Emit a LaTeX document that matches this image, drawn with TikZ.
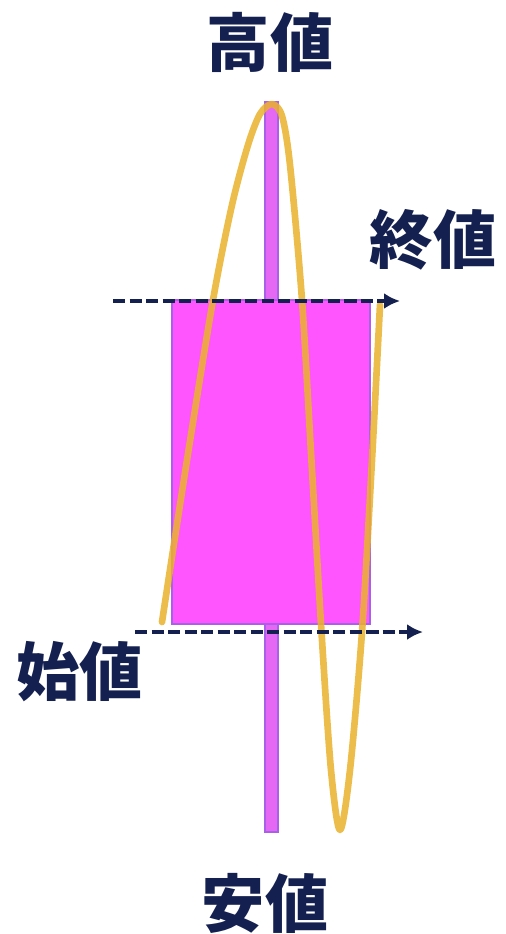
\documentclass[tikz,border=0pt]{standalone}
\usepackage{fontspec}
\newfontfamily\jpfont{Noto Sans CJK JP}
\usetikzlibrary{arrows.meta}

\definecolor{navy}{HTML}{14204F}
\definecolor{candle}{HTML}{FF55FF}
\definecolor{candleedge}{HTML}{A860E8}
\definecolor{wickfill}{HTML}{E468F4}
\definecolor{gold}{HTML}{EAB22C}

\begin{document}
\begin{tikzpicture}[
    x=0.02cm, y=-0.02cm,
    label/.style={font=\jpfont\bfseries\fontsize{36}{36}\selectfont, text=navy, inner sep=0pt},
    level/.style={navy, line width=2.2pt, dash pattern=on 7pt off 2.4pt, -{Latex[length=9pt,width=9pt]}},
    price/.style={gold, line width=3.8pt, opacity=0.85, line cap=round, line join=round},
]
    \useasboundingbox (0,0) rectangle (506,934);
    % wick and body
    \draw[candleedge, fill=wickfill, line width=0.8pt] (265,102) rectangle (278,832);
    \draw[candleedge, fill=candle, line width=0.8pt] (172,300) rectangle (370,624);
    % price path
    \draw[price] plot[smooth, tension=0.5] coordinates {
        (162,622) (187,460) (213,300) (232,205) (248,145) (260,114) (272,104)
        (282,116) (290,165) (302,300) (312,470) (322,640) (331,770) (340,830)
        (350,770) (362,632) (372,460) (380,305)};
    % open / close levels
    \coordinate (closeL) at (113,301);
    \coordinate (closeR) at (400,301);
    \coordinate (openL) at (135,632);
    \coordinate (openR) at (423,632);
    \draw[level] (closeL) -- (closeR);
    \draw[level] (openL) -- (openR);
    % labels
    \node[label] (hi) at (270,42) {高値};
    \node[label] (close) at (433,240) {終値};
    \node[label] (open) at (80,672) {始値};
    \node[label] (lo) at (265,903) {安値};
\end{tikzpicture}
\end{document}
